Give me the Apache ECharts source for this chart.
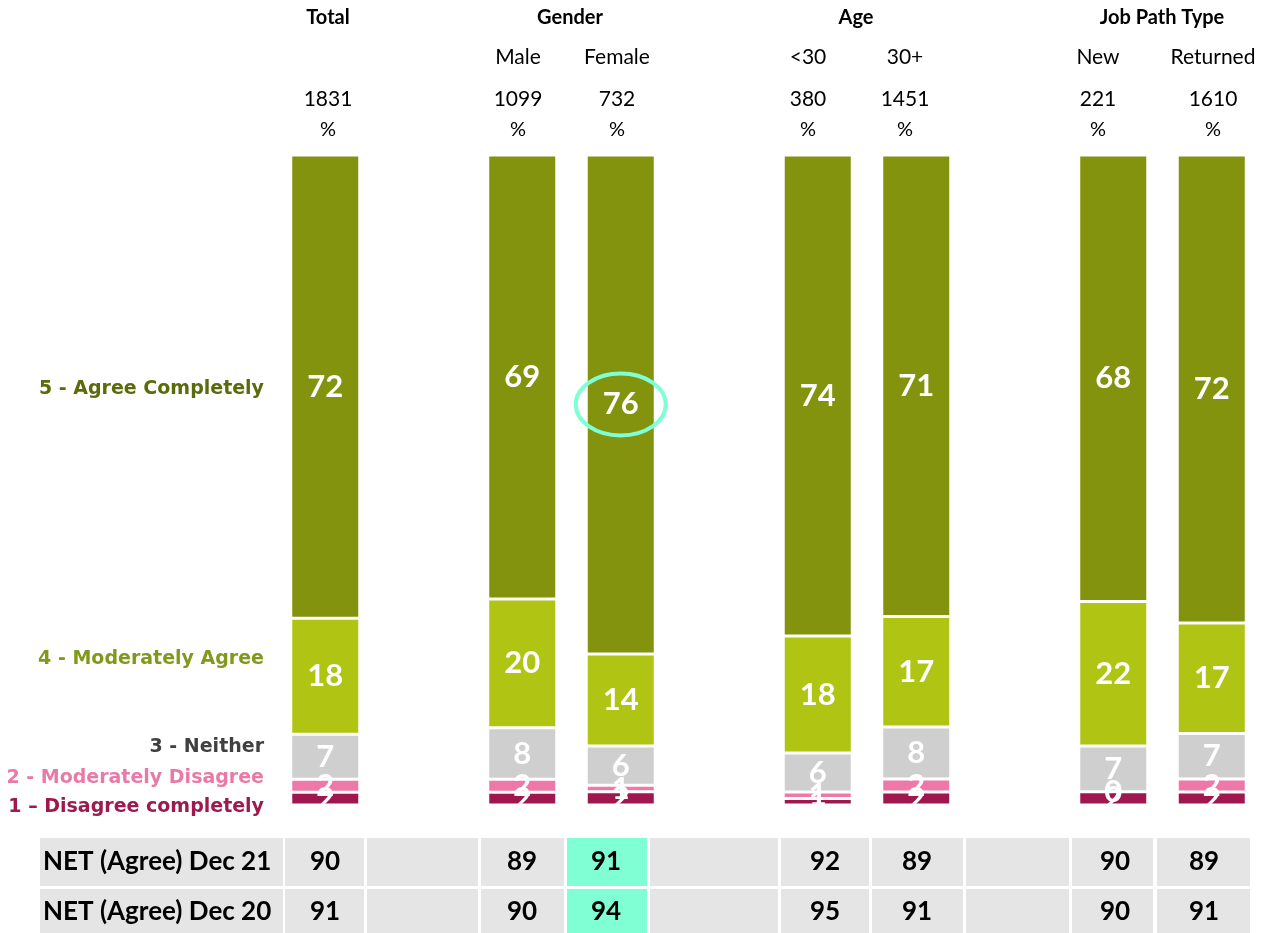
<!DOCTYPE html>
<html>
<head>
<meta charset="utf-8">
<script src="https://cdn.jsdelivr.net/npm/echarts@6/dist/echarts.min.js"></script>
<style>
  html, body { margin: 0; padding: 0; background: #fff; }
  #main { width: 1261px; height: 933px; }
</style>
</head>
<body>
<div id="main"></div>
<script>
// columns, '' = gap between groups
var categories = ['Total', '', 'Male', 'Female', '', '<30', '30+', '', 'New', 'Returned'];
var groups = [
  { name: 'Total', from: 0, to: 0 },
  { name: 'Gender', from: 2, to: 3 },
  { name: 'Age', from: 5, to: 6 },
  { name: 'Job Path Type', from: 8, to: 9 }
];
var subLabels = ['', '', 'Male', 'Female', '', '<30', '30+', '', 'New', 'Returned'];
var baseSizes = ['1831', '', '1099', '732', '', '380', '1451', '', '221', '1610'];

var seriesNames = ['1 – Disagree completely', '2 - Moderately Disagree', '3 - Neither', '4 - Moderately Agree', '5 - Agree Completely'];
var disagreeCompletely = [2, null, 2, 2, null, 1, 2, null, 2, 2];
var moderatelyDisagree = [2, null, 2, 1, null, 1, 2, null, 0, 2];
var neither            = [7, null, 8, 6, null, 6, 8, null, 7, 7];
var moderatelyAgree    = [18, null, 20, 14, null, 18, 17, null, 22, 17];
var agreeCompletely    = [72, null, 69, 76, null, 74, 71, null, 68, 72];

var rowLabels = ['NET (Agree) Dec 21', 'NET (Agree) Dec 20'];
var net21 = ['90', '', '89', '91', '', '92', '89', '', '90', '89'];
var net20 = ['91', '', '90', '94', '', '95', '91', '', '90', '91'];
var highlightCol = 3;

var colors = ['#a0164e', '#ee78a8', '#d0cfd0', '#b0c413', '#83930e'];
var labelColors = ['#9e1a4e', '#e97aa8', '#404040', '#7f9a1a', '#5a6b0a'];
var allSeries = [disagreeCompletely, moderatelyDisagree, neither, moderatelyAgree, agreeCompletely];

// 100% stacked: share of each column total
var totals = categories.map(function (c, i) {
  var s = 0;
  allSeries.forEach(function (arr) { s += arr[i] || 0; });
  return s;
});

var FONT = 'Lato';

var myChart = echarts.init(document.getElementById('main'));
var option = {
  animation: false,
  grid: { left: 276, right: -2, top: 155, bottom: 128 },
  xAxis: {
    type: 'category',
    data: categories,
    show: false
  },
  yAxis: { type: 'value', min: 0, max: 100, show: false },
  series: allSeries.map(function (arr, k) {
    return {
      name: seriesNames[k],
      type: 'bar',
      stack: 'all',
      barWidth: 69,
      itemStyle: { color: colors[k], borderColor: '#fff', borderWidth: 1.5 },
      label: {
        show: true,
        position: 'inside',
        color: '#fff',
        fontFamily: FONT,
        fontWeight: 'bold',
        fontSize: 31,
        formatter: function (p) { return arr[p.dataIndex]; }
      },
      data: arr.map(function (v, i) {
        return v === null ? null : v / totals[i] * 100;
      })
    };
  })
};
myChart.setOption(option);

// header, left labels and NET table
var g = [];
var headX = [328, 0, 518, 617, 0, 808, 905, 0, 1098, 1213];
var groupX = [328, 570, 856, 1162];

groups.forEach(function (gr, j) {
  g.push({ type: 'text', x: groupX[j], y: 18,
    style: { text: gr.name, fill: '#000', font: 'bold 20px ' + FONT, align: 'center', verticalAlign: 'middle' } });
});
categories.forEach(function (c, i) {
  if (!c) return;
  if (subLabels[i]) {
    g.push({ type: 'text', x: headX[i], y: 57,
      style: { text: subLabels[i], fill: '#000', font: '21px ' + FONT, align: 'center', verticalAlign: 'middle' } });
  }
  g.push({ type: 'text', x: headX[i], y: 99,
    style: { text: baseSizes[i], fill: '#000', font: '21px ' + FONT, align: 'center', verticalAlign: 'middle' } });
  g.push({ type: 'text', x: headX[i], y: 130,
    style: { text: '%', fill: '#000', font: '20px ' + FONT, align: 'center', verticalAlign: 'middle' } });
});

// series labels on the left
var leftY = [807, 778, 747, 659, 389];
seriesNames.forEach(function (n, k) {
  g.push({ type: 'text', x: 264, y: leftY[k],
    style: { text: n, fill: labelColors[k], font: 'bold 19px "DejaVu Sans"', align: 'right', verticalAlign: 'middle' } });
});

// highlight ellipse around Female top value
var ep = myChart.convertToPixel({ xAxisIndex: 0, yAxisIndex: 0 },
  [highlightCol, 100 - agreeCompletely[highlightCol] / totals[highlightCol] * 50]);
g.push({ type: 'ellipse', shape: { cx: ep[0], cy: ep[1], rx: 45, ry: 31 },
  style: { fill: 'none', stroke: '#7fffd4', lineWidth: 4 }, z: 10 });

// NET table
var cellX = [[285, 364], [367, 478], [481, 564], [567, 647], [650, 778], [781, 869], [872, 963], [966, 1069], [1072, 1153], [1157, 1250]];
var valX = [325, 0, 522, 606, 0, 825, 917, 0, 1115, 1204];
var rowY = [[838, 886], [889, 934]];
[net21, net20].forEach(function (row, r) {
  var y0 = rowY[r][0], h = rowY[r][1] - rowY[r][0];
  g.push({ type: 'rect', shape: { x: 40, y: y0, width: 243, height: h }, style: { fill: '#e5e5e5' } });
  g.push({ type: 'text', x: 43, y: y0 + h / 2,
    style: { text: rowLabels[r], fill: '#000', font: 'bold 26px ' + FONT, align: 'left', verticalAlign: 'middle' } });
  row.forEach(function (v, i) {
    var cx = cellX[i];
    g.push({ type: 'rect', shape: { x: cx[0], y: y0, width: cx[1] - cx[0], height: h },
      style: { fill: i === highlightCol ? '#80ffd4' : '#e5e5e5' } });
    if (v) {
      g.push({ type: 'text', x: valX[i], y: y0 + h / 2,
        style: { text: v, fill: '#000', font: 'bold 26px ' + FONT, align: 'center', verticalAlign: 'middle' } });
    }
  });
});

myChart.setOption({ graphic: g });
</script>
</body>
</html>
